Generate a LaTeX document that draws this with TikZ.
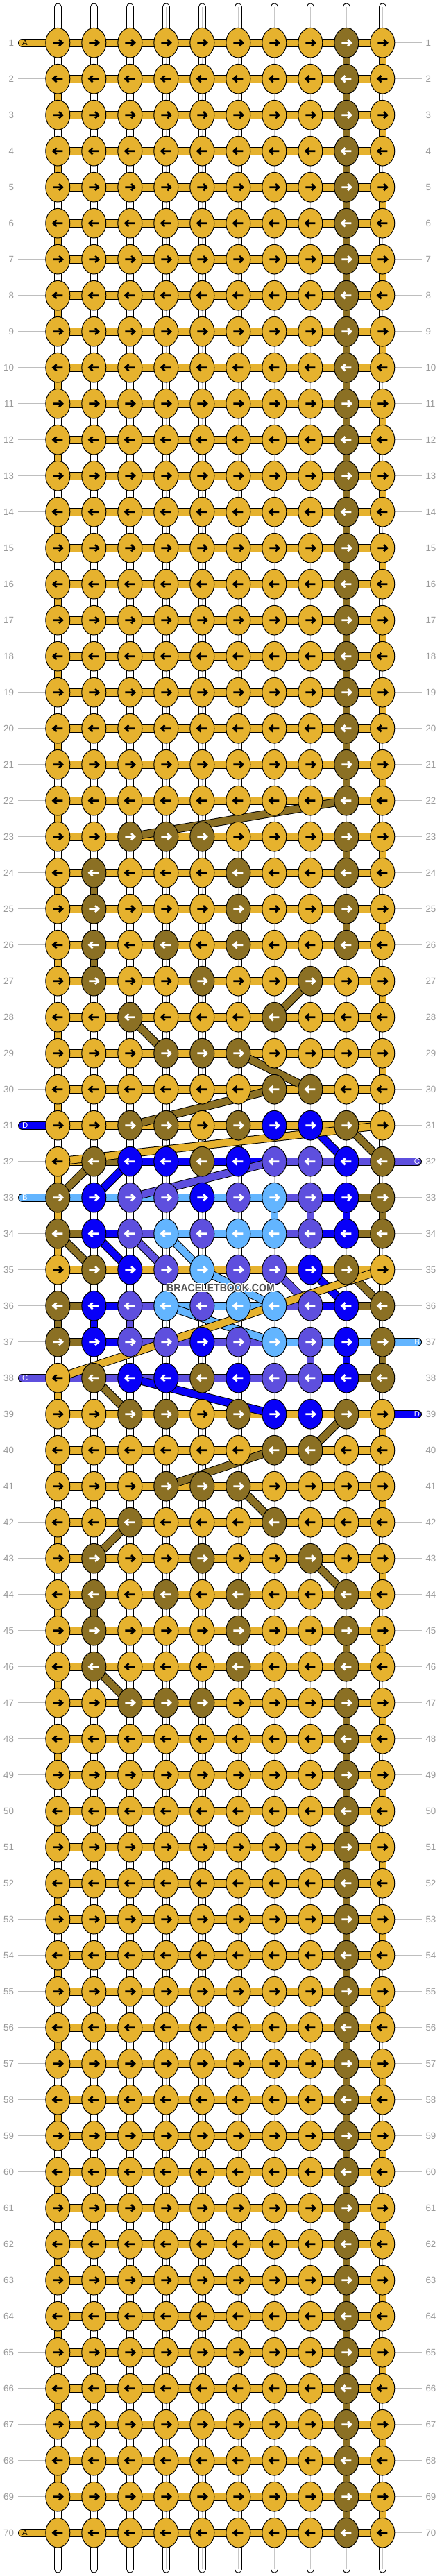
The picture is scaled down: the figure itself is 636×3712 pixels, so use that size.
\documentclass[tikz,border=0pt]{standalone}
\usepackage{fontspec}
\setmainfont{Liberation Sans}
\usetikzlibrary{shapes.geometric}

\definecolor{colY}{HTML}{E6B22E}
\definecolor{colN}{HTML}{8B7024}
\definecolor{colU}{HTML}{0800F8}
\definecolor{colP}{HTML}{5E4FDE}
\definecolor{colL}{HTML}{63B5FF}
\colorlet{arrY}{black}
\colorlet{arrN}{white}
\colorlet{arrU}{white}
\colorlet{arrP}{white}
\colorlet{arrL}{white}
\definecolor{numgray}{HTML}{9A9A9A}
\definecolor{linegray}{HTML}{BEBEBE}
\definecolor{markgray}{HTML}{505050}

% knot colours per row, bands between knots per row, strings between rows
\newcommand\setknots[2]{\expandafter\def\csname knots#1\endcsname{#2}}
\newcommand\setbands[2]{\expandafter\def\csname bands#1\endcsname{#2}}
\newcommand\setgaps[2]{\expandafter\def\csname gaps#1\endcsname{#2}}
\newcommand\getlist[3]{\ifcsname #1#2\endcsname\edef\curlist{\csname #1#2\endcsname}\else\edef\curlist{#3}\fi}

\setknots{23}{Y,Y,N,N,N,Y,Y,Y,N,Y}
\setknots{24}{Y,N,Y,Y,Y,N,Y,Y,N,Y}
\setknots{25}{Y,N,Y,Y,Y,N,Y,Y,N,Y}
\setknots{26}{Y,N,Y,N,Y,N,Y,Y,N,Y}
\setknots{27}{Y,N,Y,Y,N,Y,Y,N,Y,Y}
\setknots{28}{Y,Y,N,Y,Y,Y,N,Y,Y,Y}
\setknots{29}{Y,Y,Y,N,N,N,Y,Y,Y,Y}
\setknots{30}{Y,Y,Y,Y,Y,Y,N,N,Y,Y}
\setknots{31}{Y,Y,N,N,Y,N,U,U,N,Y}
\setknots{32}{Y,N,U,U,N,U,P,P,U,N}
\setknots{33}{N,U,P,P,U,P,L,P,U,N}
\setknots{34}{N,U,P,L,P,L,L,P,U,N}
\setknots{35}{Y,N,U,P,L,P,P,U,N,Y}
\setknots{36}{N,U,P,L,P,L,L,P,U,N}
\setknots{37}{N,U,P,P,U,P,L,P,U,N}
\setknots{38}{Y,N,U,U,N,U,P,P,U,N}
\setknots{39}{Y,Y,N,N,Y,N,U,U,N,Y}
\setknots{40}{Y,Y,Y,Y,Y,Y,N,N,Y,Y}
\setknots{41}{Y,Y,Y,N,N,N,Y,Y,Y,Y}
\setknots{42}{Y,Y,N,Y,Y,Y,N,Y,Y,Y}
\setknots{43}{Y,N,Y,Y,N,Y,Y,N,Y,Y}
\setknots{44}{Y,N,Y,N,Y,N,Y,Y,N,Y}
\setknots{45}{Y,N,Y,Y,Y,N,Y,Y,N,Y}
\setknots{46}{Y,N,Y,Y,Y,N,Y,Y,N,Y}
\setknots{47}{Y,Y,N,N,N,Y,Y,Y,N,Y}

\setbands{32}{Y,N,U,U,U,U,P,P,P}
\setbands{33}{L,L,L,L,L,L,P,U,N}
\setbands{34}{N,U,P,L,L,L,P,U,N}
\setbands{36}{N,U,P,L,L,L,P,U,N}
\setbands{37}{N,U,P,P,P,P,L,L,L}
\setbands{38}{P,P,P,P,P,P,P,U,N}

\setgaps{22}{Y,W,W,W,W,W,W,W,W,W}
\setgaps{24}{Y,N,W,W,W,W,W,W,W,W}
\setgaps{26}{Y,N,W,W,W,W,W,W,W,W}
\setgaps{27}{W,W,W,W,W,W,W,W,W,Y}
\setgaps{28}{Y,W,W,W,W,W,W,W,W,W}
\setgaps{29}{W,W,W,W,W,W,W,W,W,Y}
\setgaps{30}{Y,W,W,W,W,W,W,W,W,W}
\setgaps{31}{W,W,W,W,W,W,W,W,W,W}
\setgaps{32}{Y,W,W,W,W,W,W,W,W,W}
\setgaps{33}{Y,W,W,W,W,W,L,P,U,N}
\setgaps{34}{Y,W,W,W,W,W,W,W,W,W}
\setgaps{35}{W,W,W,W,W,W,W,W,W,W}
\setgaps{36}{N,U,P,W,W,W,W,W,W,W}
\setgaps{37}{W,W,W,W,W,W,W,P,U,N}
\setgaps{38}{Y,W,W,W,W,W,W,W,W,W}
\setgaps{39}{W,W,W,W,W,W,W,W,W,Y}
\setgaps{40}{Y,W,W,W,W,W,W,W,W,W}
\setgaps{41}{W,W,W,W,W,W,W,W,W,Y}
\setgaps{42}{Y,W,W,W,W,W,W,W,W,W}
\setgaps{43}{W,W,W,W,W,W,W,W,W,Y}
\setgaps{44}{Y,N,W,W,W,W,W,W,W,W}
\setgaps{46}{Y,W,W,W,W,W,W,W,W,W}

\tikzset{every picture/.style={line width=0.75pt}}
\tikzset{
  knot/.style={ellipse, draw=black, line width=0.75pt, fill=col#1, minimum width=26.25pt, minimum height=32pt, inner sep=0pt},
  band/.style={line width=0.75pt, draw=black, double=col#1, double distance=7.5pt},
  stub/.style={band=#1, line cap=round},
  basestring/.style={line width=0.75pt, draw=black, double=white, double distance=6.75pt},
  stringcol/.style={line width=0.75pt, draw=black, double=col#1, double distance=6.75pt},
  stringmid/.style={draw=black!22, line width=0.6pt},
  knotarrow/.style={line width=2.1pt, line join=miter},
  rowline/.style={draw=linegray, line width=0.75pt},
  rownum/.style={text=numgray, font=\fontsize{10}{12}\selectfont, inner sep=0pt},
  threadletter/.style={font=\fontsize{8.5}{10}\selectfont, inner sep=0pt},
  gapW/.style={basestring}, midW/.style={stringmid},
  gapY/.style={stringcol=Y}, midY/.style={draw=none},
  gapN/.style={stringcol=N}, midN/.style={draw=none},
  gapU/.style={stringcol=U}, midU/.style={draw=none},
  gapP/.style={stringcol=P}, midP/.style={draw=none},
  gapL/.style={stringcol=L}, midL/.style={draw=none},
}

\begin{document}
\begin{tikzpicture}[x=0.75pt,y=0.75pt,yscale=-1,xscale=1]
\fill[white] (0,0) rectangle (636,3712);
\useasboundingbox (0,0) rectangle (636,3712);

%Grid points
\foreach \r in {1,...,70} {
  \pgfmathsetmacro\y{9.7+52*\r}
  \foreach \c in {1,...,10}
    \coordinate (p-\r-\c) at ({31.3+52*\c},\y);
  \coordinate (lnum-\r) at (20.5,\y);
  \coordinate (rnum-\r) at (613,\y);
  \coordinate (lend-\r) at (26,\y);
  \coordinate (rend-\r) at (608,\y);
  \coordinate (lstub-\r) at (32,\y);
  \coordinate (rstub-\r) at (602,\y);
  \coordinate (llet-\r) at (31.5,\y);
  \coordinate (rlet-\r) at (605.5,\y);
}
\foreach \c in {1,...,10} {
  \coordinate (top-\c) at ({31.3+52*\c},10);
  \coordinate (bot-\c) at ({31.3+52*\c},3702);
}

%Row numbers and guide lines
\foreach \r in {1,...,70} {
  \node[rownum, anchor=east] (numl-\r) at (lnum-\r) {\r};
  \node[rownum, anchor=west] (numr-\r) at (rnum-\r) {\r};
  \draw[rowline] (lend-\r) -- (p-\r-1);
  \draw[rowline] (p-\r-10) -- (rend-\r);
}

%Base strings at top and bottom
\foreach \c in {1,...,10} {
  \draw[basestring, line cap=round] (top-\c) -- (p-1-\c);
  \draw[stringmid] (top-\c) -- (p-1-\c);
  \draw[basestring, line cap=round] (p-70-\c) -- (bot-\c);
  \draw[stringmid] (p-70-\c) -- (bot-\c);
}

%Strings between rows
\foreach \r in {1,...,69} {
  \pgfmathtruncatemacro\rn{\r+1}
  \ifodd\r \def\gapdef{W,W,W,W,W,W,W,W,N,Y}\else\def\gapdef{Y,W,W,W,W,W,W,W,N,W}\fi
  \getlist{gaps}{\r}{\gapdef}
  \foreach \k [count=\c] in \curlist {
    \draw[gap\k] (p-\r-\c) -- (p-\rn-\c);
    \draw[mid\k] (p-\r-\c) -- (p-\rn-\c);
  }
}

%Threads along the rows
\foreach \r in {1,...,70} {
  \getlist{bands}{\r}{Y,Y,Y,Y,Y,Y,Y,Y,Y}
  \foreach \k [count=\c] in \curlist {
    \pgfmathtruncatemacro\cn{\c+1}
    \draw[band=\k] (p-\r-\c) -- (p-\r-\cn);
  }
}

%Thread ends with letters
\draw[stub=Y] (lstub-1) -- (p-1-1);
\node[threadletter, anchor=west, text=black] (lab-A1) at (llet-1) {A};
\draw[stub=Y] (lstub-70) -- (p-70-1);
\node[threadletter, anchor=west, text=black] (lab-A70) at (llet-70) {A};
\draw[stub=U] (lstub-31) -- (p-31-1);
\node[threadletter, anchor=west, text=white] (lab-D31) at (llet-31) {D};
\draw[stub=L] (lstub-33) -- (p-33-1);
\node[threadletter, anchor=west, text=white] (lab-B33) at (llet-33) {B};
\draw[stub=P] (lstub-38) -- (p-38-1);
\node[threadletter, anchor=west, text=white] (lab-C38) at (llet-38) {C};
\draw[stub=P] (p-32-10) -- (rstub-32);
\node[threadletter, anchor=east, text=white] (lab-C32) at (rlet-32) {C};
\draw[stub=L] (p-37-10) -- (rstub-37);
\node[threadletter, anchor=east, text=white] (lab-B37) at (rlet-37) {B};
\draw[stub=U] (p-39-10) -- (rstub-39);
\node[threadletter, anchor=east, text=white] (lab-D39) at (rlet-39) {D};

%Threads crossing between rows
\foreach \k/\ra/\ca/\rb/\cb in {N/22/9/23/3, N/27/8/28/7, N/28/3/29/4, N/29/6/30/8, N/30/7/31/3,
    U/31/8/32/9, N/31/9/32/10, N/32/2/33/1, U/32/3/33/2, P/33/3/32/7,
    N/34/1/35/2, U/34/2/35/3, P/34/3/35/4, L/34/4/35/5,
    L/35/5/36/7, P/35/7/36/8, U/35/8/36/9, N/35/9/36/10, L/36/4/37/7,
    N/38/2/39/3, U/38/3/39/7, N/39/9/40/8, N/40/7/41/4, N/41/6/42/7,
    N/42/3/43/2, N/43/8/44/9, N/46/2/47/3, Y/31/10/32/1, Y/35/10/38/1}
  \draw[band=\k] (p-\ra-\ca) -- (p-\rb-\cb);

%Knots
\foreach \r in {1,...,70} {
  \getlist{knots}{\r}{Y,Y,Y,Y,Y,Y,Y,Y,N,Y}
  \ifodd\r \def\dir{1}\else\def\dir{-1}\fi
  \foreach \k [count=\c] in \curlist {
    \node[knot=\k] (k-\r-\c) at (p-\r-\c) {};
    \draw[knotarrow, draw=arr\k, shift={(p-\r-\c)}, xscale=\dir] (-7,0) -- (6,0) (1.8,-4.6) -- (6.6,0) -- (1.8,4.6);
  }
}

%Watermark
\foreach \dx/\dy in {-1/0, 1/0, 0/-1, 0/1, -1/-1, 1/1, -1/1, 1/-1}
  \node[font=\fontsize{12}{14}\selectfont\bfseries, text=white, xscale=0.88] at ({318+\dx},{1855.5+\dy}) {BRACELETBOOK.COM};
\node[font=\fontsize{12}{14}\selectfont\bfseries, text=markgray, xscale=0.88] (mark) at (318,1855.5) {BRACELETBOOK.COM};

\end{tikzpicture}
\end{document}
